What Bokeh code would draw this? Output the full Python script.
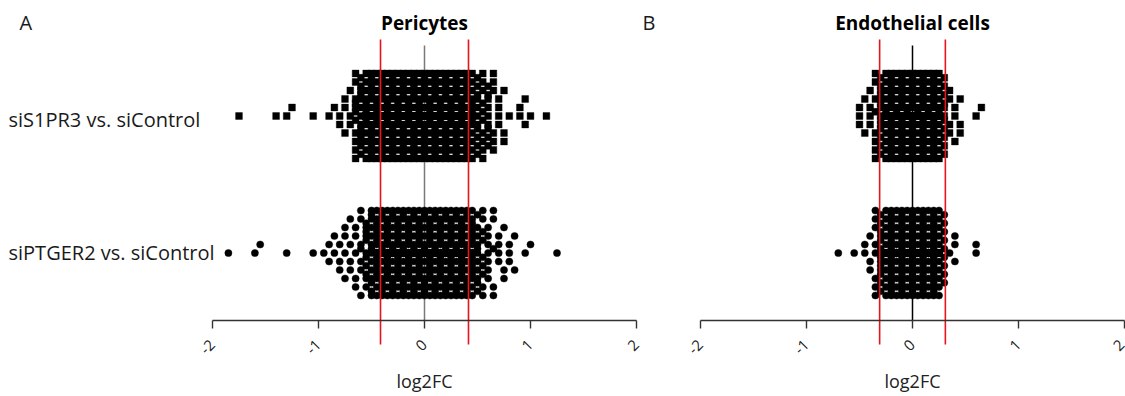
import math
from bokeh.plotting import figure
from bokeh.layouts import row
from bokeh.models import Range1d, FixedTicker, Label, ColumnDataSource
from bokeh.embed import file_html
from bokeh.resources import INLINE

# ---------------- data ----------------
panel_titles = ["Pericytes", "Endothelial cells"]
panel_letters = ["A", "B"]
comparisons = ["siS1PR3 vs. siControl", "siPTGER2 vs. siControl"]
tick_values = [-2, -1, 0, 1, 2]
tick_labels = ["-2", "-1", "0", "1", "2"]
fc_thresholds = [0.415, 0.31]          # red cut-off lines (+/-), per panel
x_label = "log2FC"

# genes per log2FC bin (bin centres, width 0.05)
peri_s1pr3_bins = [-1.75, -1.40, -1.30, -1.25, -1.05, -0.90, -0.85, -0.80, -0.75, -0.70, -0.65, -0.60,
                   -0.55, -0.50, -0.45, -0.40, -0.35, -0.30, -0.25, -0.20, -0.15, -0.10, -0.05, 0.00,
                   0.05, 0.10, 0.15, 0.20, 0.25, 0.30, 0.35, 0.40, 0.45,
                   0.50, 0.55, 0.60, 0.65, 0.70, 0.75, 0.80, 0.90, 0.95, 1.00, 1.15]
peri_s1pr3_counts = [1, 1, 1, 1, 1, 1, 1, 2, 3, 3, 11, 14,
                     22, 22, 22, 22, 22, 22, 22, 22, 22, 22, 22, 22,
                     22, 22, 22, 22, 22, 22, 22, 22, 20,
                     11, 10, 9, 6, 4, 3, 1, 2, 2, 1, 1]

peri_ptger2_bins = [-1.85, -1.60, -1.55, -1.30, -1.05, -0.95, -0.90, -0.85, -0.80, -0.75, -0.70, -0.65,
                    -0.60, -0.55, -0.50, -0.45, -0.40, -0.35, -0.30, -0.25, -0.20, -0.15, -0.10, -0.05,
                    0.00, 0.05, 0.10, 0.15, 0.20, 0.25, 0.30, 0.35, 0.40, 0.45,
                    0.50, 0.55, 0.60, 0.65, 0.70, 0.75, 0.80, 0.85, 0.95, 1.00, 1.25]
peri_ptger2_counts = [1, 1, 1, 1, 1, 1, 2, 2, 3, 4, 4, 5,
                      7, 11, 14, 22, 22, 22, 22, 22, 22, 22, 22, 22,
                      22, 22, 22, 22, 22, 22, 22, 22, 22, 20,
                      11, 9, 7, 5, 4, 3, 3, 2, 1, 1, 1]

endo_s1pr3_bins = [-0.50, -0.45, -0.40, -0.35, -0.30, -0.25, -0.20, -0.15, -0.10, -0.05, 0.00,
                   0.05, 0.10, 0.15, 0.20, 0.25, 0.30, 0.35, 0.40, 0.45, 0.60, 0.65]
endo_s1pr3_counts = [3, 2, 4, 8, 14, 22, 22, 22, 22, 22, 22,
                     22, 22, 22, 22, 22, 11, 4, 3, 3, 1, 1]

endo_ptger2_bins = [-0.70, -0.55, -0.45, -0.40, -0.35, -0.30, -0.25, -0.20, -0.15, -0.10, -0.05, 0.00,
                    0.05, 0.10, 0.15, 0.20, 0.25, 0.30, 0.35, 0.40, 0.60]
endo_ptger2_counts = [1, 1, 2, 3, 8, 14, 22, 22, 22, 22, 22, 22,
                      22, 22, 22, 22, 22, 9, 1, 3, 2]

panel_data = [
    [(peri_s1pr3_bins, peri_s1pr3_counts), (peri_ptger2_bins, peri_ptger2_counts)],
    [(endo_s1pr3_bins, endo_s1pr3_counts), (endo_ptger2_bins, endo_ptger2_counts)],
]
markers = ["square", "circle"]

# ---------------- layout constants ----------------
PX_X = 106.0         # pixels per log2FC unit
PX_GROUP = 137.0     # pixels between group centres
ROW_PX = 8.5         # vertical spacing between swarm rows
MIN_DX = 8.5         # min horizontal distance of points in one row
MAX_ROW = 5
H = 396
FONT = "Open Sans"


def ypage(P):
    """page pixel row -> data y (group index units)."""
    return 1 + (P - 115.5) / PX_GROUP


Y_TOP = ypage(0)
Y_BOT = ypage(H)
Y_AXIS = ypage(320)


def swarm_rows(xs_px):
    """Greedy row swarm: full rows first, then half-offset rows, else overlap."""
    full = [0.0]
    for k in range(1, MAX_ROW + 1):
        full += [-float(k), float(k)]
    half = []
    for k in range(MAX_ROW):
        half += [-(k + 0.5), k + 0.5]
    last = {r: -1e9 for r in full + half}
    rows = []
    for x in xs_px:
        chosen = None
        for r in full + half:
            if x - last[r] >= MIN_DX - 1e-9:
                chosen = r
                break
        if chosen is None:
            chosen = max(full, key=lambda r: x - last[r])
        last[chosen] = x
        rows.append(chosen)
    return rows


def make_panel(idx, width, left_px):
    x0 = -2 - left_px / PX_X
    x1 = x0 + width / PX_X
    p = figure(width=width, height=H, x_range=Range1d(x0, x1), y_range=Range1d(Y_BOT, Y_TOP),
               output_backend="svg", toolbar_location=None, y_axis_location=None,
               min_border=0, min_border_left=0, min_border_right=0,
               min_border_top=0, min_border_bottom=0)
    p.grid.visible = False
    p.outline_line_color = None

    # zero line
    p.segment(x0=[0], y0=[ypage(45)], x1=[0], y1=[Y_AXIS],
              line_color="#7a7a7a" if idx == 0 else "black", line_width=1.5)

    for g, (bins, counts) in enumerate(panel_data[idx]):
        xs = []
        for b, c in zip(bins, counts):
            xs += [b] * c
        xs.sort()
        rows = swarm_rows([x * PX_X for x in xs])
        ys = [g + 1 + r * ROW_PX / PX_GROUP for r in rows]
        src = ColumnDataSource(dict(x=xs, y=ys))
        p.scatter("x", "y", source=src, marker=markers[g], size=6.8 if g == 0 else 7.2,
                  fill_color="black", line_color="black", line_width=0.4)

    t = fc_thresholds[idx]
    p.segment(x0=[-t, t], y0=[ypage(39)] * 2, x1=[-t, t], y1=[ypage(344)] * 2,
              line_color="#e8141c", line_width=1.6)

    p.add_layout(Label(x=0, y=ypage(22), text=panel_titles[idx],
                       text_align="center", text_baseline="middle", text_font=FONT,
                       text_font_size="19px", text_font_style="bold", text_color="black"))
    p.add_layout(Label(x=0, y=ypage(380), text=x_label,
                       text_align="center", text_baseline="middle", text_font=FONT,
                       text_font_size="18px", text_color="#222222"))

    ax = p.xaxis[0]
    ax.fixed_location = Y_AXIS
    ax.bounds = (-2, 2)
    ax.ticker = FixedTicker(ticks=tick_values)
    ax.major_label_overrides = {v: s for v, s in zip(tick_values, tick_labels)}
    ax.major_label_orientation = math.pi / 4
    ax.major_label_text_font = FONT
    ax.major_label_text_font_size = "15px"
    ax.major_label_text_color = "#222222"
    ax.major_label_standoff = 14
    ax.axis_line_color = "#333333"
    ax.axis_line_width = 1.4
    ax.major_tick_line_color = "#333333"
    ax.major_tick_line_width = 1.4
    ax.major_tick_out = 8
    ax.major_tick_in = 0
    ax.minor_tick_out = 0
    ax.minor_tick_in = 0
    return p


A_W, A_LEFT = 660, 212
B_W, B_LEFT = 465, 700 - 660
pA = make_panel(0, A_W, A_LEFT)
pB = make_panel(1, B_W, B_LEFT)


def xpage_A(P):
    return -2 + (P - A_LEFT) / PX_X


# comparison labels (left-aligned near the page edge)
label_offsets_px = [3, -1]
for g, name in enumerate(comparisons):
    pA.add_layout(Label(x=xpage_A(8), y=g + 1 + label_offsets_px[g] / PX_GROUP, text=name,
                        text_align="left", text_baseline="middle", text_font=FONT,
                        text_font_size="20px", text_color="#1a1a1a"))

# panel letters
pA.add_layout(Label(x=xpage_A(19), y=ypage(22), text=panel_letters[0],
                    text_align="left", text_baseline="middle", text_font=FONT,
                    text_font_size="20px", text_color="#1a1a1a"))
pA.add_layout(Label(x=xpage_A(642), y=ypage(22), text=panel_letters[1],
                    text_align="left", text_baseline="middle", text_font=FONT,
                    text_font_size="20px", text_color="#1a1a1a"))

layout = row(pA, pB)
open("out.html", "w").write(file_html(layout, INLINE))
